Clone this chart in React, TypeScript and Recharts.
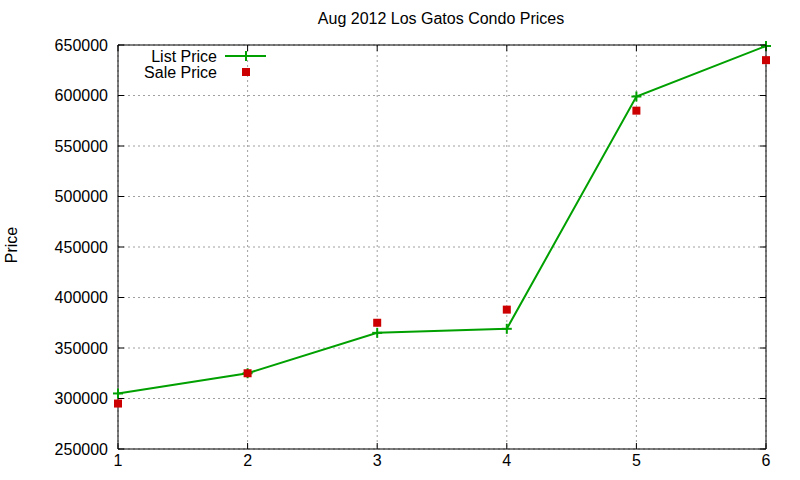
import { CartesianGrid, Line, LineChart, ReferenceArea, XAxis, YAxis } from "recharts";

const months = [1, 2, 3, 4, 5, 6];
const listPrices = [305000, 325000, 365000, 369000, 599000, 649000];
const salePrices = [295000, 325000, 375000, 388000, 585000, 635000];
const yTicks = [250000, 300000, 350000, 400000, 450000, 500000, 550000, 600000, 650000];

const data = months.map((m, i) => ({ x: m, list: listPrices[i], sale: salePrices[i] }));

const font = "'Liberation Sans', Arial, sans-serif";
const green = "#00a000";
const red = "#cc0000";
const plotW = 648;
const plotH = 404;

function YTick({ x, y, payload }: any) {
  const axisX = x + 10;
  return (
    <g>
      <line x1={axisX} x2={axisX + 6} y1={y} y2={y} stroke="#000" />
      <line x1={axisX + plotW - 6} x2={axisX + plotW} y1={y} y2={y} stroke="#000" />
      <text x={x} y={y} dy="0.35em" textAnchor="end" fontSize={16} fontFamily={font} fill="#000">
        {payload.value}
      </text>
    </g>
  );
}

function XTick({ x, y, payload }: any) {
  const axisY = y - 6;
  return (
    <g>
      <line x1={x} x2={x} y1={axisY} y2={axisY - 6} stroke="#000" />
      <line x1={x} x2={x} y1={axisY - plotH} y2={axisY - plotH + 6} stroke="#000" />
      <text x={x} y={y} dy="0.71em" textAnchor="middle" fontSize={16} fontFamily={font} fill="#000">
        {payload.value}
      </text>
    </g>
  );
}

function PlusDot({ cx, cy }: any) {
  return (
    <g>
      <line x1={cx - 5} x2={cx + 5} y1={cy} y2={cy} stroke={green} strokeWidth={2} />
      <line x1={cx} x2={cx} y1={cy - 5} y2={cy + 5} stroke={green} strokeWidth={2} />
    </g>
  );
}

function SquareDot({ cx, cy }: any) {
  return <rect x={cx - 4} y={cy - 4} width={8} height={8} fill={red} />;
}

export default function App() {
  return (
    <div style={{ position: "absolute", left: 0, top: 0, width: 800, height: 480, background: "#fff", fontFamily: font }}>
      <LineChart width={800} height={480} data={data} margin={{ top: 45, right: 34, left: 0, bottom: 0 }}>
        <CartesianGrid stroke="#a0a0a0" strokeDasharray="2 3" />
        <XAxis
          dataKey="x"
          type="number"
          domain={[1, 6]}
          ticks={months}
          height={31}
          tickSize={0}
          tickMargin={6}
          axisLine={false}
          tick={<XTick />}
        />
        <YAxis
          type="number"
          domain={[250000, 650000]}
          ticks={yTicks}
          width={118}
          tickSize={0}
          tickMargin={10}
          axisLine={false}
          tick={<YTick />}
        />
        <ReferenceArea x1={1} x2={6} y1={250000} y2={650000} fill="none" stroke="#000" strokeWidth={1} ifOverflow="visible" />
        <Line dataKey="list" stroke={green} strokeWidth={2} dot={<PlusDot />} activeDot={false} isAnimationActive={false} />
        <Line dataKey="sale" stroke="none" dot={<SquareDot />} activeDot={false} isAnimationActive={false} />
      </LineChart>
      <div style={{ position: "absolute", left: 0, top: 10, width: 882, textAlign: "center", fontSize: 16 }}>
        Aug 2012 Los Gatos Condo Prices
      </div>
      <div
        style={{ position: "absolute", left: 12, top: 245, fontSize: 16, transform: "translate(-50%, -50%) rotate(-90deg)", whiteSpace: "nowrap" }}
      >
        Price
      </div>
      <svg style={{ position: "absolute", left: 0, top: 0 }} width={300} height={90}>
        <text x={217} y={56} dy="0.35em" textAnchor="end" fontSize={16} fontFamily={font}>List Price</text>
        <line x1={225} x2={266} y1={56} y2={56} stroke={green} strokeWidth={2} />
        <PlusDot cx={246} cy={56} />
        <text x={217} y={72} dy="0.35em" textAnchor="end" fontSize={16} fontFamily={font}>Sale Price</text>
        <SquareDot cx={246} cy={72} />
      </svg>
    </div>
  );
}
